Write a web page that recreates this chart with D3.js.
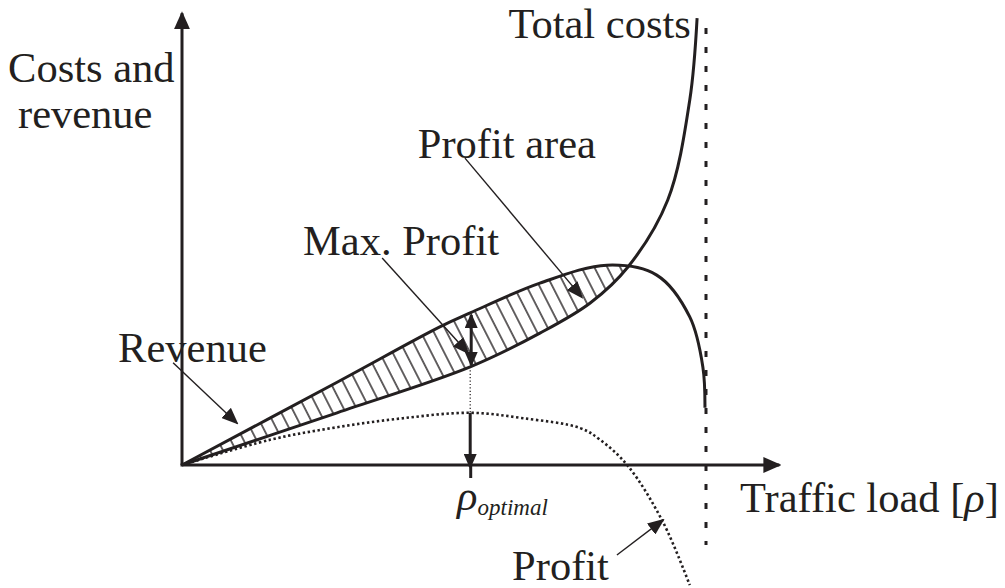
<!DOCTYPE html>
<html>
<head>
<meta charset="utf-8">
<script src="https://cdn.jsdelivr.net/npm/d3@7"></script>
<style>
  html, body { margin: 0; padding: 0; background: #fff; }
  svg { display: block; }
  .lbl { font-family: "Liberation Serif", "Times New Roman", serif; font-size: 42.5px; fill: #231f20; }
</style>
</head>
<body>
<div id="chart"></div>
<script>
// curves: rho = traffic load (1 = capacity), value in arbitrary units
const revenueRho = [0, 0.296, 0.492, 0.550, 0.683, 0.811, 0.906, 0.969, 0.994, 0.998];
const revenueVal = [0, 1.84, 3.07, 3.38, 4.04, 4.44, 4.22, 3.29, 2.18, 1.27];
const costRho = [0, 0.296, 0.550, 0.683, 0.779, 0.851, 0.927, 0.969, 0.983];
const costVal = [0, 1.16, 2.18, 2.93, 3.60, 4.40, 5.89, 8.11, 9.93];
const profitRho = [0, 0.168, 0.296, 0.422, 0.550, 0.651, 0.760, 0.798, 0.851, 0.918, 0.969];
const profitVal = [0, 0.56, 0.84, 1.04, 1.16, 1.04, 0.82, 0.56, -0.02, -1.27, -2.67];

const rhoOptimal = 0.55;
const rhoCapacity = 1.0;
const revenueAtOpt = revenueVal[revenueRho.indexOf(rhoOptimal)];
const costAtOpt = costVal[costRho.indexOf(rhoOptimal)];
const profitAtOpt = profitVal[profitRho.indexOf(rhoOptimal)];

// annotation text (anchor in data units)
const notes = [
  { text: 'Costs and', rho: -0.332, val: 8.51 },
  { text: 'revenue', rho: -0.313, val: 7.49 },
  { text: 'Total costs', rho: 0.623, val: 9.49 },
  { text: 'Profit area', rho: 0.450, val: 6.82 },
  { text: 'Max. Profit', rho: 0.231, val: 4.67 },
  { text: 'Revenue', rho: -0.122, val: 2.29 },
  { text: 'Profit', rho: 0.630, val: -2.56 },
];
// leader arrows [from, to] in data units
const leaders = [
  [[-0.017, 2.27], [0.105, 0.93]],
  [[0.382, 4.60], [0.546, 2.49]],
  [[0.540, 6.82], [0.763, 3.73]],
  [[0.830, -2.00], [0.918, -1.22]],
];

const W = 1005, H = 588;
const ink = '#231f20';

const x = d3.scaleLinear().domain([0, 1]).range([182, 706]);
const y = d3.scaleLinear().domain([0, 10]).range([465, 15]);

const svg = d3.select('#chart').append('svg')
  .attr('width', W).attr('height', H)
  .attr('viewBox', `0 0 ${W} ${H}`);

const defs = svg.append('defs');

function addHead(id, len, half) {
  defs.append('marker')
    .attr('id', id)
    .attr('markerUnits', 'userSpaceOnUse')
    .attr('viewBox', `0 ${-half} ${len} ${2 * half}`)
    .attr('markerWidth', len)
    .attr('markerHeight', 2 * half)
    .attr('refX', len - 2)
    .attr('refY', 0)
    .attr('orient', 'auto-start-reverse')
    .append('path')
    .attr('d', `M0,${-half}L${len},0L0,${half}Z`)
    .attr('fill', ink);
}
addHead('head-axis', 18, 8);
addHead('head-mid', 15, 6.5);
addHead('head-lead', 17, 7);

defs.append('pattern')
  .attr('id', 'hatch')
  .attr('patternUnits', 'userSpaceOnUse')
  .attr('width', 11.5).attr('height', 11.5)
  .attr('patternTransform', 'rotate(-27)')
  .append('line')
  .attr('x1', 5.75).attr('y1', -2).attr('x2', 5.75).attr('y2', 14)
  .attr('stroke', ink).attr('stroke-width', 1.4);

const zip = (a, b) => a.map((v, i) => [v, b[i]]);
const revenuePts = zip(revenueRho, revenueVal);
const costPts = zip(costRho, costVal);
const profitPts = zip(profitRho, profitVal);

const line = d3.line()
  .x(d => x(d[0]))
  .y(d => y(d[1]))
  .curve(d3.curveCatmullRom.alpha(0.5));

// profit area = below revenue and above total costs
const revEnd = revenuePts[revenuePts.length - 1];
const costEnd = costPts[costPts.length - 1];
defs.append('clipPath').attr('id', 'aboveCost')
  .append('path')
  .attr('d', line(costPts) + `L${x(costEnd[0])},-20L${x(0)},-20Z`);

svg.append('path')
  .attr('d', line(revenuePts) + `L${x(revEnd[0])},${y(0)}L${x(0)},${y(0)}Z`)
  .attr('fill', 'url(#hatch)')
  .attr('clip-path', 'url(#aboveCost)');

// capacity line
svg.append('line')
  .attr('x1', x(rhoCapacity)).attr('x2', x(rhoCapacity))
  .attr('y1', y(9.71)).attr('y2', y(-1.78))
  .attr('stroke', ink).attr('stroke-width', 3)
  .attr('stroke-dasharray', '6,13');

// axes
svg.append('line')
  .attr('x1', x(0)).attr('y1', y(0)).attr('x2', x(0)).attr('y2', y(10.04))
  .attr('stroke', ink).attr('stroke-width', 3)
  .attr('marker-end', 'url(#head-axis)');
svg.append('line')
  .attr('x1', x(0) - 1.5).attr('y1', y(0)).attr('x2', x(1.14)).attr('y2', y(0))
  .attr('stroke', ink).attr('stroke-width', 3)
  .attr('marker-end', 'url(#head-axis)');

const xAxis = svg.append('g')
  .attr('transform', `translate(0,${y(0)})`)
  .call(d3.axisBottom(x).tickValues([rhoOptimal]).tickSize(13).tickSizeOuter(0).tickFormat(''));
xAxis.select('.domain').remove();
xAxis.selectAll('.tick line').attr('stroke', ink).attr('stroke-width', 3);

// curves
svg.append('path').attr('d', line(revenuePts))
  .attr('fill', 'none').attr('stroke', ink).attr('stroke-width', 3);
svg.append('path').attr('d', line(costPts))
  .attr('fill', 'none').attr('stroke', ink).attr('stroke-width', 3);
svg.append('path').attr('d', line(profitPts))
  .attr('fill', 'none').attr('stroke', ink).attr('stroke-width', 2.6)
  .attr('stroke-dasharray', '2.4,2.6');

// optimum markers
svg.append('line')
  .attr('x1', x(rhoOptimal)).attr('x2', x(rhoOptimal))
  .attr('y1', y(costAtOpt)).attr('y2', y(profitAtOpt))
  .attr('stroke', ink).attr('stroke-width', 1.2)
  .attr('stroke-dasharray', '1.2,2.2');
svg.append('line')
  .attr('x1', x(rhoOptimal)).attr('x2', x(rhoOptimal))
  .attr('y1', y(profitAtOpt)).attr('y2', y(0) + 2)
  .attr('stroke', ink).attr('stroke-width', 3)
  .attr('marker-end', 'url(#head-mid)');
svg.append('line')
  .attr('x1', x(rhoOptimal) + 1).attr('x2', x(rhoOptimal) + 1)
  .attr('y1', y(costAtOpt) - 2).attr('y2', y(revenueAtOpt) + 2)
  .attr('stroke', ink).attr('stroke-width', 3)
  .attr('marker-start', 'url(#head-mid)')
  .attr('marker-end', 'url(#head-mid)');

// leaders
svg.append('g').selectAll('line')
  .data(leaders)
  .join('line')
  .attr('x1', d => x(d[0][0])).attr('y1', d => y(d[0][1]))
  .attr('x2', d => x(d[1][0])).attr('y2', d => y(d[1][1]))
  .attr('stroke', ink).attr('stroke-width', 1.4)
  .attr('marker-end', 'url(#head-lead)');

// labels
svg.append('g').selectAll('text')
  .data(notes)
  .join('text')
  .attr('class', 'lbl')
  .attr('x', d => x(d.rho)).attr('y', d => y(d.val))
  .text(d => d.text);

const opt = svg.append('text').attr('class', 'lbl')
  .attr('x', x(0.525)).attr('y', y(-1.0));
opt.append('tspan').attr('font-style', 'italic').text('ρ');
opt.append('tspan').attr('font-style', 'italic').attr('font-size', 23).attr('dy', 5).text('optimal');

const load = svg.append('text').attr('class', 'lbl')
  .attr('x', x(1.065)).attr('y', y(-1.04));
load.append('tspan').text('Traffic load [');
load.append('tspan').attr('font-style', 'italic').text('ρ');
load.append('tspan').text(']');
</script>
</body>
</html>
